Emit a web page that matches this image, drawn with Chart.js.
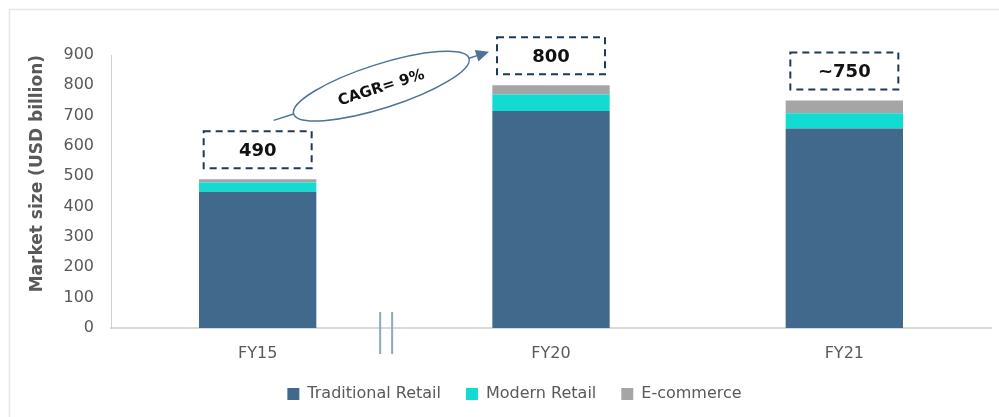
<!DOCTYPE html>
<html>
<head>
<meta charset="utf-8">
<script src="https://cdn.jsdelivr.net/npm/chart.js@4"></script>
<style>
  html, body { margin: 0; padding: 0; background: #fff; }
  #wrap { width: 999px; height: 417px; }
</style>
</head>
<body>
<div id="wrap"><canvas id="marketChart"></canvas></div>
<script>
const years = ['FY15', 'FY20', 'FY21'];
const traditionalRetail = [449, 715, 658];
const modernRetail = [31, 55, 50];
const eCommerce = [10, 30, 42];
const totalLabels = ['490', '800', '~750'];
const yTicks = [0, 100, 200, 300, 400, 500, 600, 700, 800, 900];
const cagrText = 'CAGR= 9%';

const totals = years.map((_, i) => traditionalRetail[i] + modernRetail[i] + eCommerce[i]);

// frame, axis break, dashed total boxes and the CAGR arrow
const decorations = {
    id: 'decorations',
    beforeDraw(chart) {
        const ctx = chart.ctx;
        ctx.save();
        ctx.strokeStyle = '#e6e6e6';
        ctx.lineWidth = 1.5;
        ctx.beginPath();
        ctx.moveTo(9.5, chart.height);
        ctx.lineTo(9.5, 9.5);
        ctx.lineTo(chart.width, 9.5);
        ctx.stroke();
        ctx.restore();
    },
    afterLayout(chart) {
        chart.legend.left += 12;
        chart.legend.right += 12;
        chart.legend.top -= 2;
        chart.legend.bottom -= 2;
    },
    afterDraw(chart) {
        const ctx = chart.ctx;
        const x = chart.scales.x;
        const y = chart.scales.y;
        const boxW = 108, boxH = 37;
        const boxes = years.map((_, i) => {
            const cx = x.getPixelForValue(i);
            const bottom = y.getPixelForValue(totals[i]) - 11;
            return { cx, left: cx - boxW / 2, top: bottom - boxH, bottom };
        });

        ctx.save();
        // axis break marks
        const x0 = x.getPixelForValue(0), x1 = x.getPixelForValue(1);
        const bx = x0 + (x1 - x0) * 0.438;
        ctx.strokeStyle = '#8aa9c9';
        ctx.lineWidth = 2;
        [-6, 6].forEach(d => {
            ctx.beginPath();
            ctx.moveTo(bx + d, y.bottom - 16);
            ctx.lineTo(bx + d, y.bottom + 26);
            ctx.stroke();
        });

        // dashed boxes with totals
        ctx.setLineDash([7, 5]);
        ctx.strokeStyle = '#1f3a56';
        ctx.lineWidth = 2;
        ctx.font = 'bold 18px "DejaVu Sans"';
        ctx.textAlign = 'center';
        ctx.textBaseline = 'middle';
        boxes.forEach((b, i) => {
            ctx.strokeRect(b.left, b.top, boxW, boxH);
            ctx.fillStyle = '#111';
            ctx.fillText(totalLabels[i], b.cx, b.top + boxH / 2 + 1);
        });
        ctx.setLineDash([]);

        // CAGR arrow with ellipse
        const sx = boxes[0].cx + 16, sy = boxes[0].top - 11;
        const tx = boxes[1].left - 8, ty = boxes[1].top + boxH / 2 - 4;
        const ang = Math.atan2(ty - sy, tx - sx);
        const mx = (sx + tx) / 2, my = (sy + ty) / 2;
        const a = 92, b = 22;
        ctx.strokeStyle = '#4d7399';
        ctx.lineWidth = 1.5;
        ctx.beginPath();
        ctx.moveTo(sx, sy);
        ctx.lineTo(mx - a * Math.cos(ang), my - a * Math.sin(ang));
        ctx.moveTo(mx + a * Math.cos(ang), my + a * Math.sin(ang));
        ctx.lineTo(tx - 10 * Math.cos(ang), ty - 10 * Math.sin(ang));
        ctx.stroke();
        ctx.beginPath();
        ctx.ellipse(mx, my, a, b, ang, 0, Math.PI * 2);
        ctx.fillStyle = '#fff';
        ctx.fill();
        ctx.stroke();
        ctx.fillStyle = '#4d7399';
        ctx.beginPath();
        ctx.moveTo(tx, ty);
        ctx.lineTo(tx - 13 * Math.cos(ang) + 6 * Math.sin(ang), ty - 13 * Math.sin(ang) - 6 * Math.cos(ang));
        ctx.lineTo(tx - 13 * Math.cos(ang) - 6 * Math.sin(ang), ty - 13 * Math.sin(ang) + 6 * Math.cos(ang));
        ctx.closePath();
        ctx.fill();

        ctx.translate(mx, my + 2);
        ctx.rotate(ang);
        ctx.fillStyle = '#111';
        ctx.font = 'bold 15px "DejaVu Sans"';
        ctx.fillText(cagrText, 0, 0);
        ctx.restore();
    }
};

Chart.defaults.font.family = '"DejaVu Sans", Verdana, sans-serif';
Chart.defaults.font.size = 16;
Chart.defaults.color = '#595959';

new Chart(document.getElementById('marketChart'), {
    type: 'bar',
    data: {
        labels: years,
        datasets: [
            { label: 'Traditional Retail', data: traditionalRetail, backgroundColor: '#41698c' },
            { label: 'Modern Retail', data: modernRetail, backgroundColor: '#12dcd2' },
            { label: 'E-commerce', data: eCommerce, backgroundColor: '#a5a5a5' },
        ],
    },
    options: {
        responsive: true,
        maintainAspectRatio: false,
        animation: false,
        barPercentage: 0.4,
        categoryPercentage: 1,
        layout: { padding: { top: 55, left: 14, right: 8, bottom: 3 } },
        scales: {
            x: {
                stacked: true,
                grid: { display: false, drawTicks: false },
                border: { color: '#d9d9d9', width: 2 },
                ticks: { padding: 16, color: '#595959' },
                afterFit: (scale) => { scale.height = 35; },
            },
            y: {
                stacked: true,
                min: 0,
                max: 900,
                afterBuildTicks: (scale) => { scale.ticks = yTicks.map(v => ({ value: v })); },
                grid: { display: false, drawTicks: false },
                border: { color: '#d0d0d0', width: 1 },
                ticks: { padding: 17, color: '#595959' },
                title: {
                    display: true,
                    text: 'Market size (USD billion)',
                    align: 'end',
                    color: '#595959',
                    font: { size: 17, weight: 'bold' },
                    padding: { top: 13, bottom: 16 },
                },
                afterFit: (scale) => { scale.width = 97; },
            },
        },
        plugins: {
            legend: {
                position: 'bottom',
                labels: { boxWidth: 12, boxHeight: 12, padding: 25, color: '#595959' },
            },
            tooltip: { enabled: false },
        },
    },
    plugins: [decorations],
});
</script>
</body>
</html>
